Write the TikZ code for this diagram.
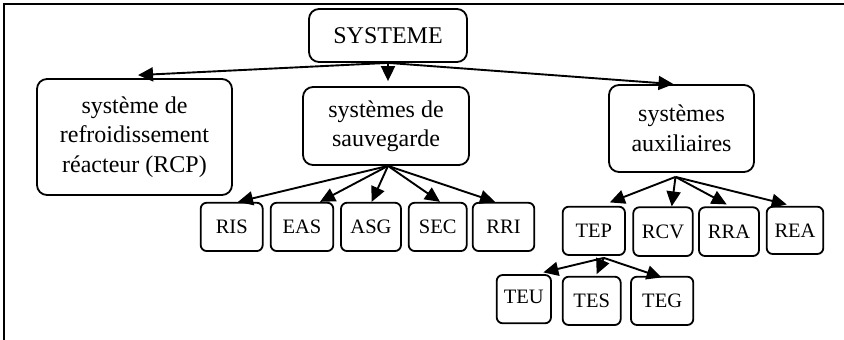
\documentclass[tikz,border=0pt]{standalone}
\usepackage{fontspec}
\setmainfont{Liberation Serif}
\usetikzlibrary{arrows.meta}
\tikzset{
  bigbox/.style={draw, line width=1.8pt, rounded corners=10pt, inner sep=0pt, align=center,
    font=\fontsize{24}{29.5}\selectfont},
  smallbox/.style={draw, line width=1.8pt, rounded corners=6pt, inner sep=0pt,
    font=\fontsize{20.5}{24}\selectfont},
  arr/.style={line width=1.9pt, -{Triangle[length=15pt,width=14pt]}},
  frame/.style={line width=1.8pt}
}
\begin{document}
\begin{tikzpicture}[x=1pt,y=-1pt]
\useasboundingbox (0,0) rectangle (844,340);
\draw[frame] (4,340) -- (4,4) -- (844,4);

\node[bigbox, minimum width=158pt, minimum height=53pt] (sys) at (388,35.5) {SYSTEME};
\node[bigbox, minimum width=195pt, minimum height=116pt] (rcp) at (134.5,137) {système de\\refroidissement\\réacteur (RCP)};
\node[bigbox, minimum width=166pt, minimum height=78pt] (sauv) at (386,126) {systèmes de\\sauvegarde};
\node[bigbox, minimum width=145pt, minimum height=87pt] (aux) at (681.5,128.5) {systèmes\\auxiliaires};

\node[smallbox, minimum width=62pt, minimum height=48.3pt] (ris) at (231.7,226.9) {RIS};
\node[smallbox, minimum width=62.6pt, minimum height=48.3pt] (eas) at (302,226.9) {EAS};
\node[smallbox, minimum width=60pt, minimum height=48.3pt] (asg) at (371,226.9) {ASG};
\node[smallbox, minimum width=58pt, minimum height=48.3pt] (sec) at (437.7,226.9) {SEC};
\node[smallbox, minimum width=61.6pt, minimum height=48.3pt] (rri) at (503.5,226.9) {RRI};

\node[smallbox, minimum width=62.3pt, minimum height=48.3pt] (tep) at (593.85,230.85) {TEP};
\node[smallbox, minimum width=59.4pt, minimum height=48.7pt] (rcv) at (663,231.65) {RCV};
\node[smallbox, minimum width=60pt, minimum height=48.7pt] (rra) at (729,231.65) {RRA};
\node[smallbox, minimum width=56.6pt, minimum height=47.3pt] (rea) at (795,230.35) {REA};

\node[smallbox, minimum width=54.3pt, minimum height=48.3pt] (teu) at (523.85,299.15) {\raisebox{4pt}{TEU}};
\node[smallbox, minimum width=58pt, minimum height=48.3pt] (tes) at (591.7,300.85) {TES};
\node[smallbox, minimum width=62.3pt, minimum height=48.3pt] (teg) at (662.15,300.85) {TEG};

\coordinate (sysO) at (sys.south);
\coordinate (sauvO) at ([xshift=2pt]sauv.south);
\coordinate (auxO) at ([xshift=-6pt,yshift=-4pt]aux.south);
\coordinate (tepO) at ([xshift=10pt,yshift=-2pt]tep.south);

\draw[arr] (sysO) -- ([xshift=3.5pt,yshift=3pt]rcp.north);
\draw[arr] (sysO) -- ([xshift=2pt,yshift=5pt]sauv.north);
\draw[arr] (sysO) -- ([xshift=-8pt]aux.north);

\draw[arr] (sauvO) -- ([xshift=6.3pt]ris.north);
\draw[arr] (sauvO) -- ([xshift=18pt]eas.north);
\draw[arr] (sauvO) -- ([xshift=0.7pt]asg.north);
\draw[arr] (sauvO) -- ([xshift=2.3pt]sec.north);
\draw[arr] (sauvO) -- ([xshift=-8.5pt]rri.north);

\draw[arr] (auxO) -- ([xshift=16pt,yshift=3.4pt]tep.north);
\draw[arr] (auxO) -- ([xshift=8.7pt]rcv.north);
\draw[arr] (auxO) -- ([xshift=-2.3pt,yshift=2pt]rra.north);
\draw[arr] (auxO) -- ([xshift=-8.3pt,yshift=1.3pt]rea.north);

\draw[arr] (tepO) -- ([xshift=19.5pt,yshift=1.7pt]teu.north);
\draw[arr] (tepO) -- ([xshift=5pt,yshift=1.7pt]tes.north);
\draw[arr] (tepO) -- ([xshift=-0.5pt,yshift=-1.6pt]teg.north);
\end{tikzpicture}
\end{document}
